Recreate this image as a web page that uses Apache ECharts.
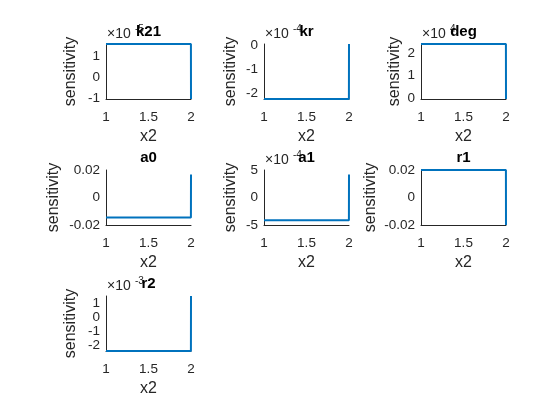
<!DOCTYPE html>
<html><head><meta charset="utf-8">
<script src="https://cdn.jsdelivr.net/npm/echarts@6/dist/echarts.min.js"></script>
<style>html,body{margin:0;padding:0;background:#fff}#c{width:560px;height:420px}</style>
</head><body><div id="c"></div>
<script>
// ---- data ----
const x2 = [1, 1.999, 2];
const titles = ['k21', 'kr', 'deg', 'a0', 'a1', 'r1', 'r2'];
const k21 = [1.6, 1.6, -1.02];
const kr = [-2.24, -2.24, 0.07];
const deg = [2.4, 2.4, -0.05];
const a0 = [-0.0146, -0.0146, 0.0167];
const a1 = [-4.12, -4.12, 4.16];
const r1 = [0.02, 0.02, -0.02];
const r2 = [-2.45, -2.45, 1.56];
const xTicks = [1, 1.5, 2];
const yTicks = [[-1, 0, 1], [-2, -1, 0], [0, 1, 2], [-0.02, 0, 0.02], [-5, 0, 5], [-0.02, 0, 0.02], [-2, -1, 0, 1]];
const yLimits = [[-1.02, 1.6], [-2.24, 0.07], [-0.05, 2.4], [-0.02, 0.02], [-5, 5], [-0.02, 0.02], [-2.45, 1.56]];
const exponents = ['-5', '-4', '4', null, '-4', null, '-3'];
const xLabel = 'x2';
const yLabel = 'sensitivity';

// ---- layout / style ----
const seriesVals = [k21, kr, deg, a0, a1, r1, r2];
const colLeft = [106, 264, 421];
const rowTop = [44, 170, 296];
const W = 85, H = 55;
const nameGaps = [27, 25, 18, 44, 25, 42, 27];
const FONT = '"Liberation Sans", Arial, Helvetica, sans-serif';
const AX = '#262626';

const grid = [], xAxis = [], yAxis = [], series = [], graphic = [];
const labelStyle = {fontFamily: FONT, fontSize: 13.5, color: AX};
seriesVals.forEach((vals, i) => {
  const c = i % 3, r = Math.floor(i / 3);
  const left = colLeft[c], top = rowTop[r];
  grid.push({left: left, top: top, width: W, height: H, containLabel: false});
  xAxis.push({
    gridIndex: i, type: 'value', min: 1, max: 2,
    name: xLabel, nameLocation: 'middle', nameGap: 30,
    nameTextStyle: {fontFamily: FONT, fontSize: 16, color: AX},
    axisLine: {show: true, onZero: false, lineStyle: {color: AX, width: 1}},
    axisTick: {show: false},
    splitLine: {show: false},
    axisLabel: Object.assign({customValues: xTicks, margin: 11, formatter: v => String(v)}, labelStyle)
  });
  const ticksA = yTicks[i].filter((v, k) => k % 2 === 0);
  const ticksB = yTicks[i].filter((v, k) => k % 2 === 1);
  const mainIdx = yAxis.length;
  yAxis.push({
    gridIndex: i, type: 'value', position: 'left', min: yLimits[i][0], max: yLimits[i][1],
    name: yLabel, nameLocation: 'middle', nameGap: nameGaps[i], nameRotate: 90,
    nameTextStyle: {fontFamily: FONT, fontSize: 16, color: AX},
    axisLine: {show: true, onZero: false, lineStyle: {color: AX, width: 1}},
    axisTick: {show: false},
    splitLine: {show: false},
    axisLabel: Object.assign({customValues: ticksA, margin: 6, formatter: v => String(v)}, labelStyle)
  });
  yAxis.push({
    gridIndex: i, type: 'value', position: 'left', offset: 0, min: yLimits[i][0], max: yLimits[i][1],
    axisLine: {show: false, onZero: false},
    axisTick: {show: false},
    splitLine: {show: false},
    axisLabel: Object.assign({customValues: ticksB, margin: 6, formatter: v => String(v)}, labelStyle)
  });
  series.push({
    type: 'line', xAxisIndex: i, yAxisIndex: mainIdx,
    data: x2.map((x, k) => [x, vals[k]]),
    showSymbol: false, clip: false, z: 3,
    lineStyle: {color: '#0072BD', width: 2},
    animation: false
  });
  if (exponents[i] !== null) {
    graphic.push({type: 'text', x: left + 1, y: top - 3, z: 10,
      style: {text: '×10', font: '14px ' + FONT, fill: AX, textAlign: 'left', textVerticalAlign: 'bottom', verticalAlign: 'bottom'}});
    graphic.push({type: 'text', x: left + 29, y: top - 10, z: 10,
      style: {text: exponents[i], font: '10px ' + FONT, fill: AX, textAlign: 'left', textVerticalAlign: 'bottom', verticalAlign: 'bottom'}});
  }
  graphic.push({type: 'text', x: left + W / 2, y: top - 5, z: 20,
    style: {text: titles[i], font: 'bold 15px ' + FONT, fill: '#000', textAlign: 'center', textVerticalAlign: 'bottom', verticalAlign: 'bottom'}});
});

const chart = echarts.init(document.getElementById('c'), null, {renderer: 'canvas'});
chart.setOption({
  backgroundColor: '#fff',
  animation: false,
  grid: grid, xAxis: xAxis, yAxis: yAxis, series: series, graphic: graphic
});
</script>
</body></html>
